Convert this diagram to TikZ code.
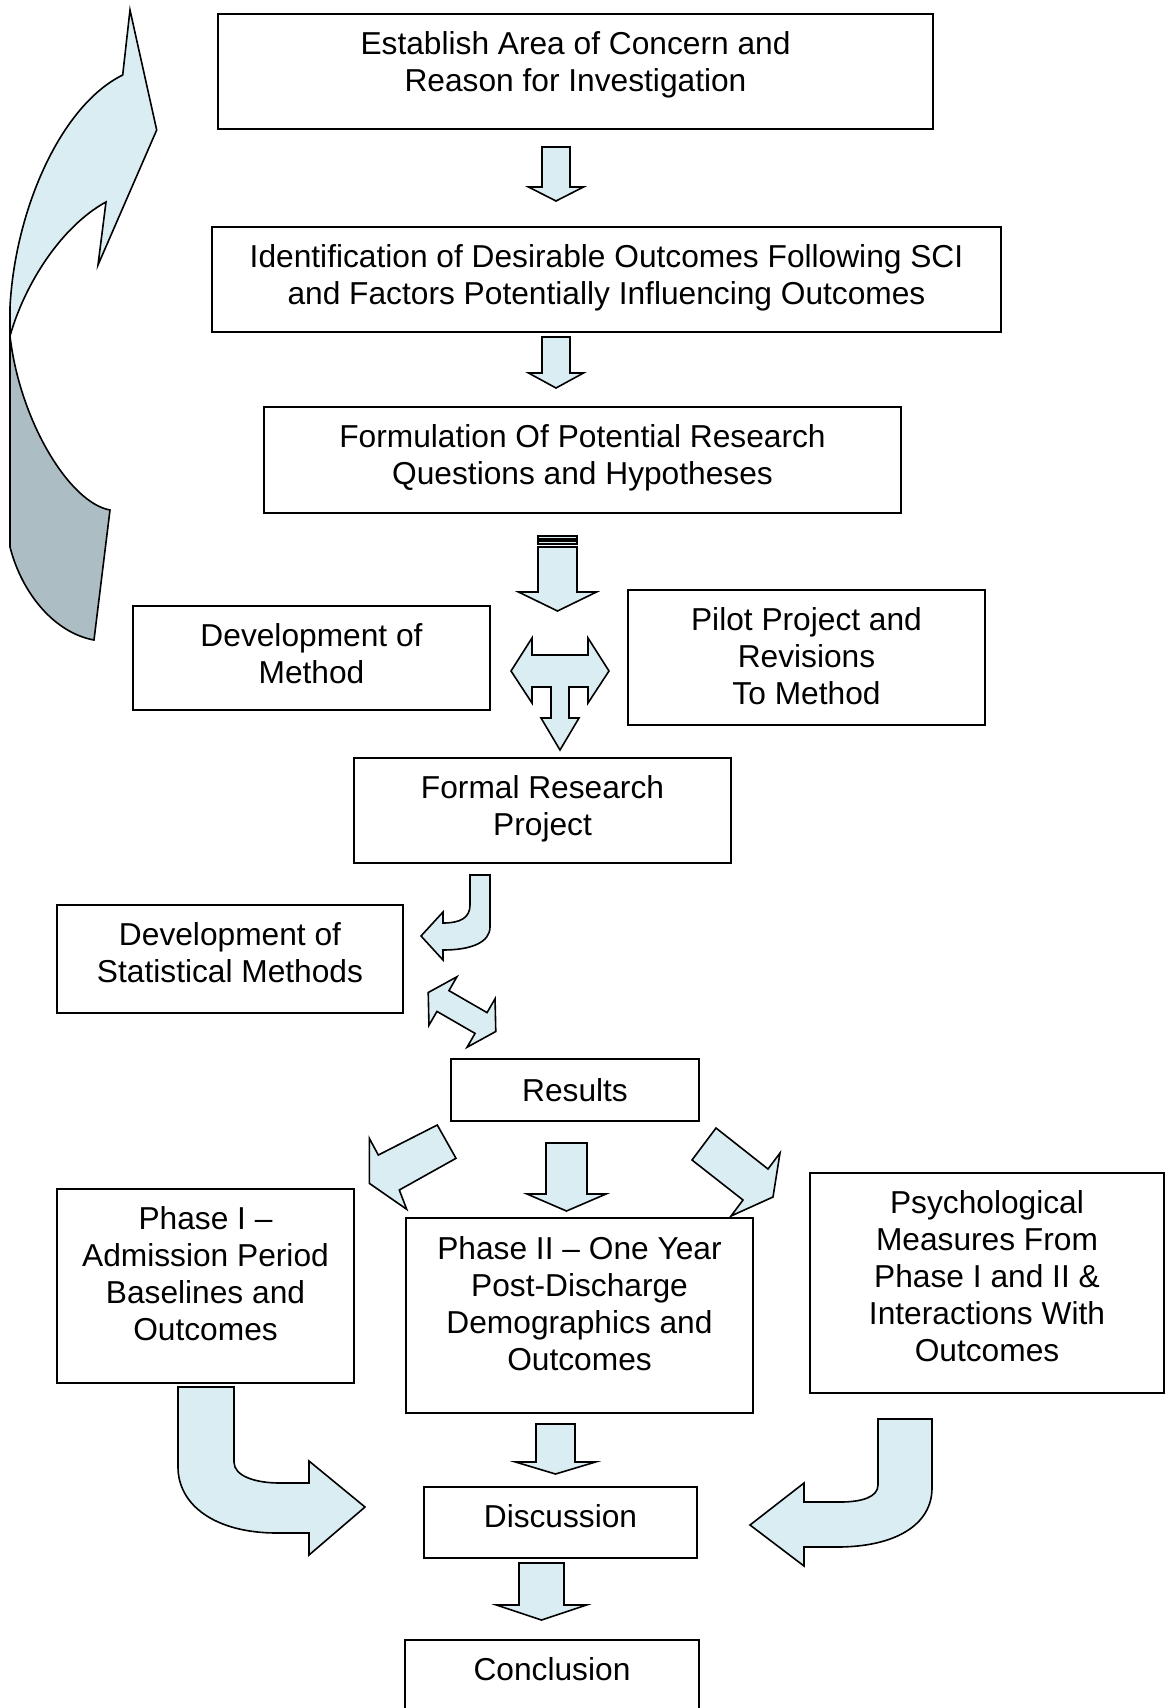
\documentclass[tikz,border=0pt]{standalone}
\usepackage{fontspec}
\setmainfont{Liberation Sans}
% strut that keeps every text line the same height
\newcommand\lnstrut{\vrule height 29pt depth 7pt width 0pt}
\definecolor{arrowfill}{RGB}{218,237,243}
\definecolor{backfill}{RGB}{172,189,195}
% straight block arrow pointing down: centre x, shaft half width, top, head base, head half width, tip
\newcommand\dnarrow[6]{%
  \draw[blk] (#1-#2,#3) -- (#1+#2,#3) -- (#1+#2,#4) -- (#1+#5,#4) -- (#1,#6)
    -- (#1-#5,#4) -- (#1-#2,#4) -- cycle;}
\begin{document}
\begin{tikzpicture}[x=1pt,y=-1pt,
  box/.style={draw=black, line width=2pt, inner sep=0pt},
  txt/.style={anchor=north, align=center, inner sep=0pt,
              font=\fontsize{31.7}{37}\selectfont},
  blk/.style={draw=black, fill=arrowfill, line width=1.6pt, line join=miter}]
\useasboundingbox (0,0) rectangle (1168,1708);
\fill[white] (0,0) rectangle (1168,1708);
\clip (0,0) rectangle (1168,1708);

% ---- process boxes ----
\node[box, minimum width=715pt, minimum height=115pt] (b1) at (575.5,71.5) {};
\node[box, minimum width=789pt, minimum height=105pt] (b2) at (606.5,279.5) {};
\node[box, minimum width=637pt, minimum height=106pt] (b3) at (582.5,460) {};
\node[box, minimum width=357pt, minimum height=104pt] (bm) at (311.5,658) {};
\node[box, minimum width=357pt, minimum height=135pt] (bp) at (806.5,657.5) {};
\node[box, minimum width=377pt, minimum height=105pt] (bf) at (542.5,810.5) {};
\node[box, minimum width=346pt, minimum height=108pt] (bs) at (230,959) {};
\node[box, minimum width=248pt, minimum height=62pt] (br) at (575,1090) {};
\node[box, minimum width=297pt, minimum height=194pt] (p1) at (205.5,1286) {};
\node[box, minimum width=347pt, minimum height=195pt] (p2) at (579.5,1315.5) {};
\node[box, minimum width=354pt, minimum height=220pt] (ps) at (987,1283) {};
\node[box, minimum width=273pt, minimum height=71pt] (bd) at (560.5,1522.5) {};
\node[box, minimum width=294pt, minimum height=76pt] (bc) at (552,1678) {};

% ---- box texts ----
\node[txt] (b1t) at ([yshift=-12.35pt]b1.north) {\lnstrut Establish Area of Concern and\\\lnstrut Reason for Investigation};
\node[txt] (b2t) at ([yshift=-12.35pt]b2.north) {\lnstrut Identification of Desirable Outcomes Following SCI\\\lnstrut and Factors Potentially Influencing Outcomes};
\node[txt] (b3t) at ([yshift=-12.35pt]b3.north) {\lnstrut Formulation Of Potential Research\\\lnstrut Questions and Hypotheses};
\node[txt] (bmt) at ([yshift=-12.35pt]bm.north) {\lnstrut Development of\\\lnstrut Method};
\node[txt] (bpt) at ([yshift=-12.35pt]bp.north) {\lnstrut Pilot Project and\\\lnstrut Revisions\\\lnstrut To Method};
\node[txt] (bft) at ([yshift=-12.35pt]bf.north) {\lnstrut Formal Research\\\lnstrut Project};
\node[txt] (bst) at ([yshift=-12.35pt]bs.north) {\lnstrut Development of\\\lnstrut Statistical Methods};
\node[txt] (brt) at ([yshift=-14pt]br.north) {\lnstrut Results};
\node[txt] (p1t) at ([yshift=-12.35pt]p1.north) {\lnstrut Phase I –\\\lnstrut Admission Period\\\lnstrut Baselines and\\\lnstrut Outcomes};
\node[txt] (p2t) at ([yshift=-13.5pt]p2.north) {\lnstrut Phase II – One Year\\\lnstrut Post-Discharge\\\lnstrut Demographics and\\\lnstrut Outcomes};
\node[txt] (pst) at ([yshift=-12.35pt]ps.north) {\lnstrut Psychological\\\lnstrut Measures From\\\lnstrut Phase I and II \&\\\lnstrut Interactions With\\\lnstrut Outcomes};
\node[txt] (bdt) at ([yshift=-12.35pt]bd.north) {\lnstrut Discussion};
\node[txt] (bct) at ([yshift=-12.35pt]bc.north) {\lnstrut Conclusion};

% ---- feedback loop on the left ----
\draw[blk, fill=backfill] (10,336) -- (10,547) .. controls (22,594) and (55,633) .. (94,640)
  -- (110,510) .. controls (70,503) and (20,422) .. (10,336) -- cycle;
\draw[blk] (106,202) -- (98,265) -- (156.7,130) -- (130,10) -- (122.7,75)
  .. controls (60,106) and (15,211) .. (10,307) -- (10,336)
  .. controls (25,283) and (62,226) .. (106,202) -- cycle;

% ---- straight down arrows ----
\dnarrow{556}{14}{147}{187}{27.5}{201}
\dnarrow{556}{14}{337}{373}{27.5}{388}
% striped arrow below the research questions
\draw[blk] (538,536) rectangle (577,539);
\draw[blk] (538,541) rectangle (577,544);
\dnarrow{557.5}{19.5}{547}{592}{39}{611}

% three-way arrow between method, pilot and formal project
\draw[blk] (511,671) -- (532,638) -- (532,655) -- (588,655) -- (588,638) -- (609,671)
  -- (588,703) -- (588,687) -- (569,687) -- (569,718) -- (579,718) -- (560,750)
  -- (541,718) -- (551,718) -- (551,687) -- (532,687) -- (532,703) -- cycle;

% bent arrow towards the statistical methods
\draw[blk] (470,875) -- (490,875) -- (490,927) .. controls (490,942) and (472,950) .. (443,950)
  -- (443,960) -- (421,936) -- (443,912) -- (443,923)
  .. controls (460,923) and (470,918) .. (470,905) -- cycle;

% double arrow between statistical methods and results
\begin{scope}[shift={(462,1012)}, rotate=-30]
\draw[blk] (-39,0) -- (-22,-28) -- (-22,-12) -- (22,-12) -- (22,-28) -- (39,0)
  -- (22,28) -- (22,12) -- (-22,12) -- (-22,28) -- cycle;
\end{scope}

% arrows from the results to the three phases
\draw[blk] (437.3,1125) -- (456,1158.3) -- (399.3,1190) -- (406.7,1209.3)
  -- (369.3,1183.3) -- (369.3,1138.3) -- (378.3,1155) -- cycle;
\dnarrow{566.5}{20.5}{1143}{1194}{39.5}{1211}
\draw[blk] (716,1128) -- (692,1160) -- (743,1200) -- (731,1216)
  -- (773,1197) -- (780,1153) -- (768,1169) -- cycle;

% arrows into the discussion
\draw[blk] (178,1387) -- (234,1387) -- (234,1462) .. controls (234,1476) and (255,1483) .. (280,1483)
  -- (309,1483) -- (309,1461) -- (365,1507) -- (309,1555) -- (309,1533) -- (277,1533)
  .. controls (215,1533) and (178,1505) .. (178,1467) -- cycle;
\dnarrow{555.5}{19.5}{1424}{1462}{40}{1474}
\draw[blk] (878,1419) -- (932,1419) -- (932,1488) .. controls (932,1525) and (895,1547) .. (837,1547)
  -- (804,1547) -- (804,1566) -- (750,1525) -- (804,1483) -- (804,1502) -- (840,1502)
  .. controls (862,1502) and (878,1497) .. (878,1485) -- cycle;

% discussion to conclusion
\dnarrow{541.5}{22.5}{1563}{1605}{45}{1620}
\end{tikzpicture}
\end{document}
